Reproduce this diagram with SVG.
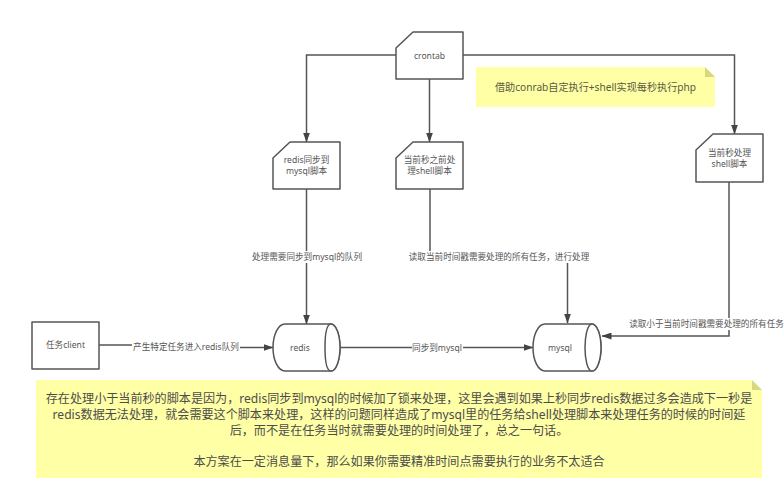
<svg xmlns="http://www.w3.org/2000/svg" width="784" height="500" viewBox="0 0 784 500">
<style>
text{font-family:"Noto Sans","Noto Sans CJK SC",sans-serif;fill:#555;font-size:8.6px;text-anchor:middle}
.card,.cyl{fill:#fff;stroke:#555;stroke-width:1.5;stroke-linejoin:round}
.conn{fill:none;stroke:#555;stroke-width:1.5}
.lbl{fill:#fff;stroke:none}
.note{fill:#ffffa6}
.fold{fill:#d8d880}
.big{font-size:12.1px;fill:#4c4c4c}
.mid{font-size:10.15px;fill:#5a5a40}
</style>
<defs>
<marker id="arr" viewBox="0 0 10 7" refX="9.500" refY="3.500" markerWidth="10" markerHeight="7" markerUnits="userSpaceOnUse" orient="auto"><path d="M0 0L10 3.500L0 7z" fill="#444"/></marker>
</defs>
<g id="connectors">
<path class="conn" marker-end="url(#arr)" d="M396 55H306.500V142"/>
<path class="conn" marker-end="url(#arr)" d="M429.500 79V142"/>
<path class="conn" marker-end="url(#arr)" d="M463 55H734.500V134"/>
<path class="conn" marker-end="url(#arr)" d="M306.500 189V324"/>
<path class="conn" marker-end="url(#arr)" d="M430 189V257H567.500V323"/>
<path class="conn" marker-end="url(#arr)" d="M729 182V336H602"/>
<path class="conn" marker-end="url(#arr)" d="M99 345H186V347.500H273"/>
<path class="conn" marker-end="url(#arr)" d="M340 347.500H533"/>
<g id="connector-labels">
<rect class="lbl" x="251" y="251" width="112" height="12"/><text x="307" y="260">处理需要同步到mysql的队列</text>
<rect class="lbl" x="407" y="251" width="184" height="12"/><text x="499" y="260">读取当前时间戳需要处理的所有任务，进行处理</text>
<rect class="lbl" x="628" y="318" width="156" height="12"/><text x="706.500" y="327">读取小于当前时间戳需要处理的所有任务</text>
<rect class="lbl" x="132" y="341" width="108" height="12"/><text x="186" y="350">产生特定任务进入redis队列</text>
<rect class="lbl" x="412" y="342" width="51" height="12"/><text x="437" y="351">同步到mysql</text>
</g>
</g>
<g id="crontab"><path class="card" d="M413 32H463V79H396V48z"/><text x="429.500" y="59">crontab</text></g>
<g id="redis-sync"><path class="card" d="M290 142H340V189H273V158z"/><text x="306.500" y="163">redis同步到<tspan x="306.500" dy="10.500">mysql脚本</tspan></text></g>
<g id="before-shell"><path class="card" d="M413 142H463V189H396V158z"/><text x="429.500" y="163">当前秒之前处<tspan x="429.500" dy="10.500">理shell脚本</tspan></text></g>
<g id="current-shell"><path class="card" d="M713 134H763V182H696V150z"/><text x="729.500" y="156">当前秒处理<tspan x="729.500" dy="10.500">shell脚本</tspan></text></g>
<g id="client"><rect class="card" x="32" y="322" width="67" height="47"/><text x="65.500" y="348">任务client</text></g>
<g id="redis"><path class="cyl" d="M285 324H331C336 324 340 335 340 347.500S336 371 331 371H285C278 371 273 360 273 347.500S278 324 285 324z"/><path class="cyl" d="M331 324C326 324 325 338 325 347.500S326 371 331 371C336 371 340 360 340 347.500S336 324 331 324z"/><text x="300" y="351">redis</text></g>
<g id="mysql"><path class="cyl" d="M545 324H592C597 324 601 335 601 347.500S597 371 592 371H545C538 371 533 360 533 347.500S538 324 545 324z"/><path class="cyl" d="M592 324C587 324 585 338 585 347.500S587 371 592 371C597 371 601 360 601 347.500S597 324 592 324z"/><text x="560" y="351">mysql</text></g>
<g id="note-top"><path class="note" d="M476 67H705L715 77V107H476z"/><path class="fold" d="M705 67L715 77H705z"/><text class="mid" x="595.500" y="91">借助conrab自定执行+shell实现每秒执行php</text></g>
<g id="note-bottom"><path class="note" d="M36 380H752L762 390V478H36z"/><path class="fold" d="M752 380L762 390H752z"/>
<text class="big" x="399" y="403">存在处理小于当前秒的脚本是因为，redis同步到mysql的时候加了锁来处理，这里会遇到如果上秒同步redis数据过多会造成下一秒是<tspan x="399" y="419">redis数据无法处理，就会需要这个脚本来处理，这样的问题同样造成了mysql里的任务给shell处理脚本来处理任务的时候的时间延</tspan><tspan x="399" y="435">后，而不是在任务当时就需要处理的时间处理了，总之一句话。</tspan><tspan x="399" y="466">本方案在一定消息量下，那么如果你需要精准时间点需要执行的业务不太适合</tspan></text>
</g>
</svg>
